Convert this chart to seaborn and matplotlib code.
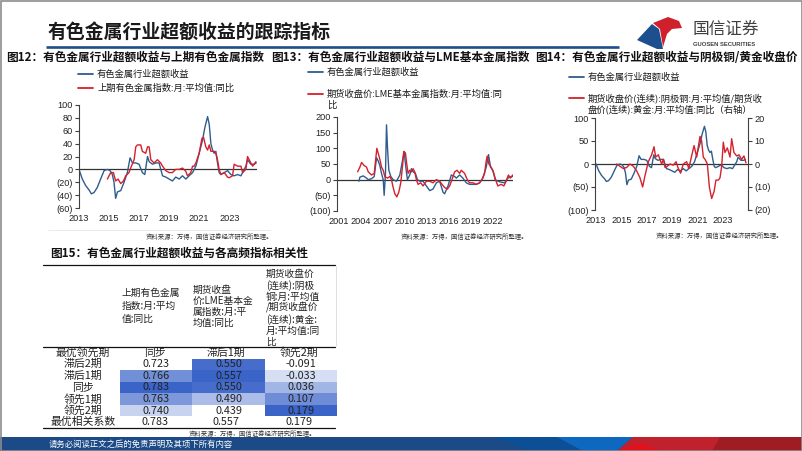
import numpy as np
import pandas as pd
import matplotlib
matplotlib.use('Agg')
import matplotlib.pyplot as plt
import seaborn as sns
from matplotlib.patches import Polygon, Rectangle
from matplotlib.colors import LinearSegmentedColormap
from matplotlib.ticker import FuncFormatter

# ---------------- data ----------------
excess_years = [2013.0, 2013.22, 2013.44, 2013.67, 2013.82, 2014.0, 2014.22, 2014.44, 2014.67, 2014.89,
                2015.07, 2015.22, 2015.33, 2015.44, 2015.56, 2015.78, 2016.0, 2016.22, 2016.4, 2016.56,
                2016.78, 2017.0, 2017.22, 2017.38, 2017.56, 2017.67, 2017.89, 2018.11, 2018.33, 2018.56,
                2018.78, 2019.0, 2019.22, 2019.44, 2019.67, 2019.89, 2020.11, 2020.33, 2020.56, 2020.78,
                2021.0, 2021.22, 2021.38, 2021.56, 2021.67, 2021.78, 2021.89, 2022.0, 2022.11, 2022.22,
                2022.33, 2022.44, 2022.67, 2022.89, 2023.11, 2023.33, 2023.56, 2023.78, 2023.89, 2024.11,
                2024.22, 2024.44, 2024.67, 2024.8]
excess_vals = [0, -15, -25, -32, -38, -36, -28, -15, -2, 0,
               -2, -8, -20, -45, -35, -33, -20, -5, 18, 10,
               10, 8, -5, -8, 20, 12, 8, 10, 10, -10,
               -12, -15, -18, -12, -15, -10, -15, -10, -5, 5,
               25, 45, 65, 82, 70, 40, 30, 25, 28, 10,
               -5, -8, -5, -2, -8, -10, -8, -10, -5, 5,
               15, 8, 8, 10]

prev_idx_years = [2014.89, 2015.11, 2015.29, 2015.44, 2015.6, 2015.78, 2015.96, 2016.11, 2016.33, 2016.49,
                  2016.67, 2016.78, 2016.89, 2017.11, 2017.22, 2017.44, 2017.56, 2017.67, 2017.78, 2018.0,
                  2018.22, 2018.44, 2018.56, 2018.78, 2019.0, 2019.22, 2019.44, 2019.67, 2019.89, 2020.11,
                  2020.22, 2020.44, 2020.56, 2020.67, 2020.78, 2021.0, 2021.18, 2021.29, 2021.44, 2021.56,
                  2021.67, 2021.78, 2022.0, 2022.11, 2022.22, 2022.33, 2022.44, 2022.67, 2022.89, 2023.0,
                  2023.22, 2023.33, 2023.56, 2023.78, 2023.89, 2024.11, 2024.22, 2024.44, 2024.56, 2024.78]
prev_idx_vals = [-15, -5, -5, -18, -15, -22, -18, -10, -5, 5,
                 15, 35, 38, 38, 28, 25, 35, 35, 15, 10,
                 15, 10, 5, -2, -5, -5, 0, 0, 2, -3,
                 -10, -5, 5, 5, 10, 25, 48, 50, 35, 30,
                 38, 28, 28, 25, 15, 0, -8, -5, -12, -13,
                 -10, 8, 5, 5, -5, 0, 20, 10, 5, 12]

excess_long_years = [2003.73, 2003.86, 2004.32, 2004.77, 2005.0, 2005.45, 2005.82, 2006.14, 2006.36, 2006.59,
                     2006.82, 2007.05, 2007.18, 2007.36, 2007.5, 2007.64, 2007.82, 2008.09, 2008.41, 2008.86,
                     2009.32, 2009.68, 2009.91, 2010.14, 2010.36, 2010.68, 2010.91, 2011.14, 2011.45, 2011.73,
                     2012.05, 2012.5, 2012.95, 2013.41, 2013.86, 2014.32, 2014.77, 2015.23, 2015.45, 2015.91,
                     2016.36, 2016.82, 2017.05, 2017.5, 2017.95, 2018.41, 2018.86, 2019.32, 2019.77, 2020.23,
                     2020.68, 2021.14, 2021.45, 2021.73, 2022.05, 2022.36, 2022.73, 2023.18, 2023.64, 2024.09,
                     2024.55, 2024.77]
excess_long_vals = [-5, 8, 12, 5, 0, 3, 10, 70, 60, 45,
                    20, 0, -50, 20, 175, 100, 30, 10, 0, -5,
                    15, 60, 90, 40, 0, 15, 35, 25, 20, 0,
                    -5, -5, -20, -35, -30, -10, -5, -40, -45, -20,
                    15, 10, 5, 15, 5, -10, -15, -15, -15, -10,
                    5, 40, 80, 40, 30, 0, -5, -8, -10, 5,
                    10, 10]

lme_years = [2003.55, 2003.86, 2004.09, 2004.45, 2004.77, 2005.0, 2005.45, 2005.82, 2006.0, 2006.18,
             2006.36, 2006.59, 2006.82, 2007.05, 2007.27, 2007.64, 2007.95, 2008.18, 2008.41, 2008.64,
             2008.91, 2009.18, 2009.45, 2009.68, 2009.86, 2010.09, 2010.27, 2010.45, 2010.68, 2010.91,
             2011.14, 2011.36, 2011.59, 2011.82, 2012.18, 2012.5, 2012.95, 2013.41, 2013.86, 2014.32,
             2014.77, 2015.09, 2015.45, 2015.82, 2016.14, 2016.45, 2016.82, 2017.14, 2017.5, 2017.73,
             2018.18, 2018.55, 2018.86, 2019.32, 2019.77, 2020.23, 2020.55, 2020.91, 2021.14, 2021.27,
             2021.5, 2021.82, 2022.18, 2022.41, 2022.73, 2023.18, 2023.55, 2023.86, 2024.18, 2024.45,
             2024.77]
lme_vals = [25, 40, 55, 45, 40, 25, 15, 20, 60, 100,
            85, 65, 40, 30, 10, 5, 10, 0, -25, -45,
            -55, -40, -10, 40, 90, 85, 50, 20, 30, 25,
            35, 25, 0, -15, -10, -20, -5, -5, -10, 0,
            -5, -15, -25, -30, -20, 0, 25, 30, 20, 30,
            20, 0, -10, -10, -15, -10, 0, 20, 60, 75,
            50, 40, 20, 0, -20, -15, -20, -5, 15, 5,
            15]

ratio_years = [2014.63, 2014.89, 2015.16, 2015.42, 2015.68, 2015.95, 2016.21, 2016.47, 2016.68, 2016.87,
               2017.13, 2017.39, 2017.58, 2017.71, 2017.92, 2018.18, 2018.32, 2018.45, 2018.63, 2018.84,
               2019.11, 2019.32, 2019.5, 2019.68, 2019.89, 2020.16, 2020.32, 2020.55, 2020.74, 2020.95,
               2021.21, 2021.34, 2021.47, 2021.61, 2021.79, 2021.95, 2022.13, 2022.32, 2022.47, 2022.66,
               2022.79, 2022.92, 2023.05, 2023.18, 2023.37, 2023.58, 2023.71, 2023.89, 2024.11, 2024.29,
               2024.5, 2024.68, 2024.84]
ratio_vals = [0, -1, -2, -1.5, 0, -1, -3, -6, -10, -5,
              1, 4, 7.5, 3, 4, 0, 2, -1.5, -1, 0,
              -0.5, 1, -2, -4, 0, 1, -2, 3.5, 8, 3,
              12, 10, 3, 2, 0, -10, -15, -12, -7, -7,
              -6, -1, 9.5, 5, 7, 3, 11, 5, 3.5, 4,
              2, 3.5, 0.5]

row_labels = ['滞后2期', '滞后1期', '同步', '领先1期', '领先2期']
best_lead = ['同步', '滞后1期', '领先2期']
corr_prev = [0.723, 0.766, 0.783, 0.763, 0.740]
corr_lme = [0.550, 0.557, 0.550, 0.490, 0.439]
corr_ratio = [-0.091, -0.033, 0.036, 0.107, 0.179]
best_corr = [0.783, 0.557, 0.179]

BLUE = '#2e5d8e'
RED = '#d6202c'
NAVY = '#1f4e8c'

# ---------------- figure ----------------
sns.set_theme(style='white')
plt.rcParams['font.family'] = ['Noto Sans CJK SC', 'DejaVu Sans']
plt.rcParams['axes.unicode_minus'] = False

W, H = 802, 451
fig = plt.figure(figsize=(W / 100, H / 100), dpi=100)
bg = fig.add_axes([0, 0, 1, 1])
bg.set_xlim(0, W)
bg.set_ylim(H, 0)
bg.axis('off')


def px_axes(l, t, r, b):
    return fig.add_axes([l / W, 1 - b / H, (r - l) / W, (b - t) / H])


def paren(v, pos=None):
    v = int(round(v))
    return f'({abs(v)})' if v < 0 else f'{v}'


def style(ax, ylim, yticks, xlim, xticks):
    ax.set_xlim(*xlim)
    ax.set_ylim(*ylim)
    for s in ['top', 'right', 'bottom']:
        ax.spines[s].set_visible(False)
    ax.spines['left'].set_color('#404040')
    ax.spines['left'].set_linewidth(0.8)
    ax.set_yticks(yticks)
    ax.yaxis.set_major_formatter(FuncFormatter(paren))
    ax.set_xticks(xticks)
    ax.set_xticklabels([str(x) for x in xticks])
    ax.tick_params(axis='y', direction='out', length=3, width=0.8, color='#404040', pad=1.5,
                   labelsize=6.6, labelcolor='#222222', labelfontfamily='Liberation Sans', left=True)
    ax.tick_params(axis='x', length=0, pad=4, labelsize=6.6, labelcolor='#222222',
                   labelfontfamily='Liberation Sans')
    ax.axhline(0, color='#333333', lw=0.9, zorder=1)
    ax.set_xlabel('')
    ax.set_ylabel('')
    ax.patch.set_alpha(0)
    ax.grid(False)


def legend_entry(x, y, color, lines, fs=6.7):
    bg.plot([x, x + 15], [y, y], color=color, lw=1.3)
    for i, t in enumerate(lines):
        bg.text(x + 19, y + i * 11, t, fontsize=fs, va='center', ha='left', color='#1a1a1a')


# ---------------- header ----------------
bg.text(48, 32, '有色金属行业超额收益的跟踪指标', fontsize=13.6, fontweight='bold', va='center',
        ha='left', color='#1a1a1a')
bg.plot([46, 619], [47, 47], color=NAVY, lw=1.9, solid_capstyle='butt')
bg.add_patch(Polygon([(637, 40), (652, 24), (659, 29), (663, 49), (657, 49)], closed=True,
                     color='#1d4f8f', lw=0))
bg.add_patch(Polygon([(653, 23), (668, 17), (679, 21), (682, 28), (672, 29), (667, 34), (663, 47),
                      (660, 29)], closed=True, color='#d0202c', lw=0))
bg.text(693, 29, '国信证券', fontsize=12, va='center', ha='left', color='#404040')
bg.text(693, 44.5, 'GUOSEN SECURITIES', fontsize=4.2, va='center', ha='left', color='#404040',
        fontweight='bold', family='Liberation Sans')

# chart titles
bg.text(6, 57, '图12：有色金属行业超额收益与上期有色金属指数', fontsize=8.4, fontweight='bold',
        va='center', ha='left', color='#111111')
bg.text(271, 57, '图13：有色金属行业超额收益与LME基本金属指数', fontsize=8.4, fontweight='bold',
        va='center', ha='left', color='#111111')
bg.text(535, 57.5, '图14：有色金属行业超额收益与阴极铜/黄金收盘价', fontsize=8.4, fontweight='bold',
        va='center', ha='left', color='#111111')

# ---------------- chart 12 ----------------
ax12 = px_axes(79, 105, 257, 208)
sns.lineplot(x=excess_years, y=excess_vals, ax=ax12, color=BLUE, lw=1.0, estimator=None)
sns.lineplot(x=prev_idx_years, y=prev_idx_vals, ax=ax12, color=RED, lw=1.0, estimator=None)
style(ax12, (-60, 100), list(range(-60, 101, 20)), (2013.0, 2024.85), list(range(2013, 2024, 2)))
legend_entry(78, 74, BLUE, ['有色金属行业超额收益'])
legend_entry(78, 88, RED, ['上期有色金属指数:月:平均值:同比'])
bg.plot([48, 270], [230, 230], color='#e6e6e6', lw=0.6)
bg.text(273, 237, '资料来源：万得，国信证券经济研究所整理。', fontsize=4.6, ha='right', va='center',
        color='#333333')

# ---------------- chart 13 ----------------
ax13 = px_axes(337, 117, 513, 211)
sns.lineplot(x=excess_long_years, y=excess_long_vals, ax=ax13, color=BLUE, lw=1.0, estimator=None)
sns.lineplot(x=lme_years, y=lme_vals, ax=ax13, color=RED, lw=1.0, estimator=None)
style(ax13, (-100, 200), list(range(-100, 201, 50)), (2000.73, 2024.8), list(range(2001, 2023, 3)))
legend_entry(308, 72, BLUE, ['有色金属行业超额收益'])
legend_entry(308, 94, RED, ['期货收盘价:LME基本金属指数:月:平均值:同', '比'])
bg.text(528, 237, '资料来源：万得，国信证券经济研究所整理。', fontsize=4.6, ha='right', va='center',
        color='#333333')

# ---------------- chart 14 ----------------
ax14 = px_axes(595, 118, 748, 210)
sns.lineplot(x=excess_years, y=excess_vals, ax=ax14, color=BLUE, lw=1.0, estimator=None)
style(ax14, (-100, 100), list(range(-100, 101, 50)), (2012.92, 2025.0), list(range(2013, 2024, 2)))
ax14r = ax14.twinx()
sns.lineplot(x=ratio_years, y=ratio_vals, ax=ax14r, color=RED, lw=1.0, estimator=None)
ax14r.set_ylim(-20, 20)
ax14r.set_yticks([-20, -10, 0, 10, 20])
ax14r.yaxis.set_major_formatter(FuncFormatter(paren))
for s in ['top', 'left', 'bottom']:
    ax14r.spines[s].set_visible(False)
ax14r.spines['right'].set_color('#404040')
ax14r.spines['right'].set_linewidth(0.8)
ax14r.tick_params(axis='y', direction='out', length=3, width=0.8, color='#404040', pad=1.5,
                  labelsize=6.6, labelcolor='#222222', labelfontfamily='Liberation Sans', right=True)
ax14r.set_ylabel('')
ax14r.grid(False)
legend_entry(569, 77, BLUE, ['有色金属行业超额收益'])
legend_entry(569, 98, RED, ['期货收盘价(连续):阴极铜:月:平均值/期货收', '盘价(连续):黄金:月:平均值:同比（右轴）'])
bg.text(783, 236, '资料来源：万得，国信证券经济研究所整理。', fontsize=4.6, ha='right', va='center',
        color='#333333')

# ---------------- table (图15) ----------------
bg.text(50, 253, '图15：有色金属行业超额收益与各高频指标相关性', fontsize=8.4, fontweight='bold',
        va='center', ha='left', color='#111111')
bg.plot([43, 335], [265, 265], color='#111111', lw=0.9)
bg.plot([336, 336], [266, 346], color='#d9d9d9', lw=0.6)

head1 = ['上期有色金属', '指数:月:平均', '值:同比']
head2 = ['期货收盘', '价:LME基本金', '属指数:月:平', '均值:同比']
head3 = ['期货收盘价', '(连续):阴极', '铜:月:平均值', '/期货收盘价', '(连续):黄金:', '月:平均值:同', '比']
for i, t in enumerate(head1):
    bg.text(122, 293 + i * 13, t, fontsize=7, va='center', ha='left', color='#222222')
for i, t in enumerate(head2):
    bg.text(193, 290 + i * 11, t, fontsize=7, va='center', ha='left', color='#222222')
for i, t in enumerate(head3):
    bg.text(266, 274 + i * 11.3, t, fontsize=7, va='center', ha='left', color='#222222')

bg.plot([43, 335], [347, 347], color='#111111', lw=0.9)
bg.plot([43, 335], [428, 428], color='#111111', lw=0.9)

row_h = (428 - 347) / 7
col_cx = [155, 226, 299]
bg.text(83, 347 + row_h * 0.5, '最优领先期', fontsize=7.8, va='center', ha='center', color='#222222')
for cx, t in zip(col_cx, best_lead):
    bg.text(cx, 347 + row_h * 0.5, t, fontsize=7.8, va='center', ha='center', color='#222222')
for i, t in enumerate(row_labels):
    bg.text(83, 347 + row_h * (i + 1.5), t, fontsize=7.8, va='center', ha='center', color='#222222')
bg.text(83, 347 + row_h * 6.5, '最优相关系数', fontsize=7.8, va='center', ha='center', color='#222222')
for cx, v in zip(col_cx, best_corr):
    bg.text(cx, 347 + row_h * 6.5, f'{v:.3f}', fontsize=7.8, va='center', ha='center',
            color='#222222')

corr = pd.DataFrame({'prev': corr_prev, 'lme': corr_lme, 'ratio': corr_ratio}, index=row_labels)
norm = (corr - corr.min()) / (corr.max() - corr.min())
cmap = LinearSegmentedColormap.from_list('tblue', ['#ffffff', '#3a64c8'])
axt = px_axes(120, 347 + row_h, 337, 347 + row_h * 6)
sns.heatmap(norm, ax=axt, cmap=cmap, vmin=0, vmax=1, cbar=False, annot=corr.values, fmt='.3f',
            annot_kws={'fontsize': 7.8, 'color': '#222222'}, xticklabels=False, yticklabels=False,
            linewidths=0)
axt.axis('off')
bg.text(252, 434, '资料来源：万得，国信证券经济研究所整理。', fontsize=4.6, ha='center', va='center',
        color='#333333')

# ---------------- footer ----------------
bg.add_patch(Rectangle((0, 437), W, 14, color='#1b4a87', lw=0))
bg.add_patch(Polygon([(493, 437), (560, 437), (585, 451), (530, 451)], closed=True, color='#0c4f96', lw=0))
bg.add_patch(Polygon([(557, 437), (633, 437), (617, 451), (583, 451)], closed=True, color='#0f68c0', lw=0))
bg.add_patch(Polygon([(633, 437), (802, 437), (802, 451), (617, 451)], closed=True, color='#c0212d', lw=0))
bg.add_patch(Polygon([(720, 437), (802, 437), (802, 451), (712, 451)], closed=True, color='#9e1c23', lw=0))
bg.add_patch(Polygon([(617, 451), (640, 443), (662, 451)], closed=True, color='#e3111e', lw=0))
bg.text(49, 444, '请务必阅读正文之后的免责声明及其项下所有内容', fontsize=6, va='center', ha='left',
        color='white')

# frame
bg.add_patch(Rectangle((0.5, 0.5), W - 1, H - 1, fill=False, edgecolor='#8c8c8c', lw=1.2))

fig.savefig('out.png', dpi=100)
